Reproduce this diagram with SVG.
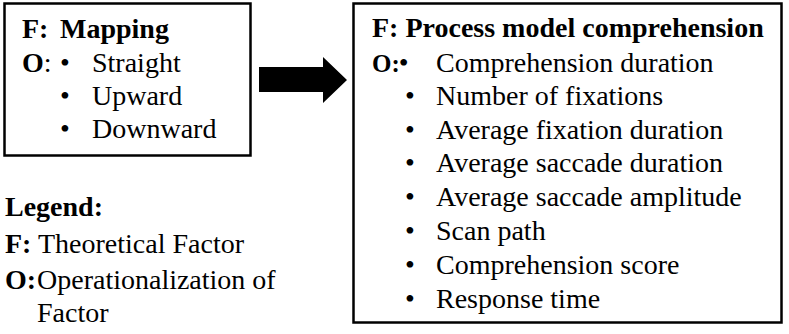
<svg xmlns="http://www.w3.org/2000/svg" width="789" height="334" viewBox="0 0 789 334">
<style>
text{font-family:"Liberation Serif","Times New Roman",serif;font-size:28px;fill:#000}
.b{font-weight:bold}
.box{fill:#fff;stroke:#000;stroke-width:2.5}
</style>
<rect width="789" height="334" fill="#fff"/>
<g id="mapping">
<rect class="box" x="4.5" y="3.5" width="246" height="152"/>
<text class="b" x="22" y="38">F:</text>
<text class="b" x="60" y="38">Mapping</text>
<text x="22" y="72"><tspan class="b">O</tspan>:</text>
<text x="60" y="72">•</text><text x="92" y="72">Straight</text>
<text x="60" y="105">•</text><text x="92" y="105">Upward</text>
<text x="60" y="138">•</text><text x="92" y="138">Downward</text>
</g>
<g id="connectors">
<polygon points="259,67 323,67 323,57 347,80 323,103 323,92 259,92" fill="#000"/>
</g>
<g id="comprehension">
<rect class="box" x="353.5" y="3.5" width="428" height="319"/>
<text class="b" x="372" y="37">F: Process model comprehension</text>
<text x="372" y="72"><tspan class="b" font-size="25">O:</tspan><tspan dx="-1">•</tspan></text>
<text x="436" y="72">Comprehension duration</text>
<text x="405" y="105">•</text><text x="436" y="105">Number of fixations</text>
<text x="405" y="139">•</text><text x="436" y="139">Average fixation duration</text>
<text x="405" y="172">•</text><text x="436" y="172">Average saccade duration</text>
<text x="405" y="206">•</text><text x="436" y="206">Average saccade amplitude</text>
<text x="405" y="240">•</text><text x="436" y="240">Scan path</text>
<text x="405" y="274">•</text><text x="436" y="274">Comprehension score</text>
<text x="405" y="308">•</text><text x="436" y="308">Response time</text>
</g>
<g id="legend">
<text class="b" x="5" y="216">Legend:</text>
<text class="b" x="5" y="253">F:</text><text x="38" y="253">Theoretical Factor</text>
<text class="b" x="5" y="289">O:</text><text x="37" y="289">Operationalization of</text>
<text x="37" y="322">Factor</text>
</g>
</svg>
